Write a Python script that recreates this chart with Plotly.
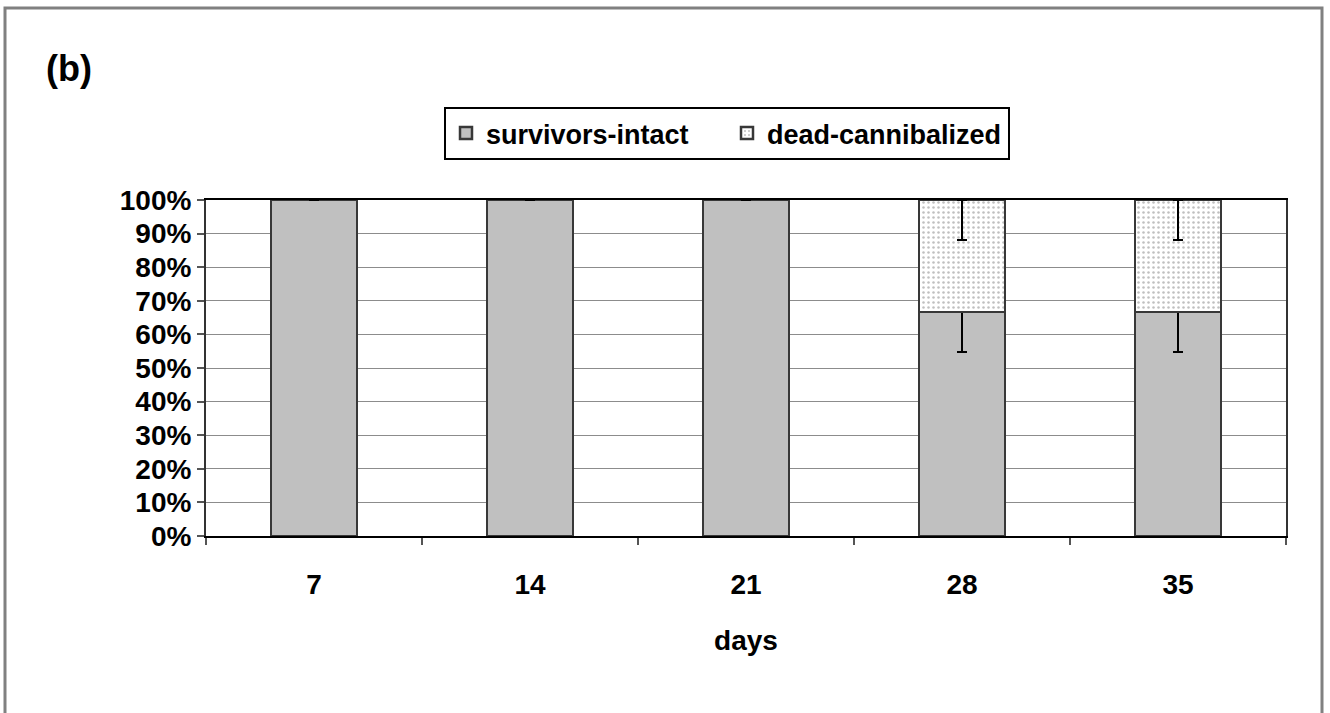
import plotly.graph_objects as go

days = ["7", "14", "21", "28", "35"]
survivors_intact = [1.0, 1.0, 1.0, 0.667, 0.667]
dead_cannibalized = [0.0, 0.0, 0.0, 0.333, 0.333]
survivors_err_minus = [None, None, None, 0.12, 0.12]
dead_err_minus = [None, None, None, 0.12, 0.12]
y_ticks = [0, 0.1, 0.2, 0.3, 0.4, 0.5, 0.6, 0.7, 0.8, 0.9, 1.0]

W, H = 1330, 713
L, R, T, B = 206, 1286, 200, 536
pw, ph = R - L, B - T

def px(x):
    return (x - L) / pw

def py(y):
    return (B - y) / ph

FONT = "Liberation Sans, Arial, sans-serif"

fig = go.Figure()
fig.add_trace(go.Bar(
    x=days, y=survivors_intact, name="survivors-intact",
    marker=dict(color="#C0C0C0", line=dict(color="#383838", width=2.5)),
    error_y=dict(type="data", symmetric=False, array=[0]*5,
                 arrayminus=survivors_err_minus, color="black",
                 thickness=2, width=5),
))
fig.add_trace(go.Bar(
    x=days, y=dead_cannibalized, name="dead-cannibalized",
    marker=dict(color="white", line=dict(color="#383838", width=2.5),
                pattern=dict(shape=".", fgcolor="#808080", bgcolor="white",
                             size=5, solidity=0.2)),
    error_y=dict(type="data", symmetric=False, array=[0]*5,
                 arrayminus=dead_err_minus, color="black",
                 thickness=2, width=5),
))

fig.update_layout(
    width=W, height=H,
    margin=dict(l=L, r=W - R, t=T, b=H - B, autoexpand=False),
    barmode="stack", bargap=0.6,
    paper_bgcolor="white", plot_bgcolor="white",
    font=dict(family=FONT, size=28, color="black"),
    showlegend=True,
    legend=dict(
        orientation="h", x=px(727), xanchor="center", y=py(107), yanchor="top",
        bordercolor="black", borderwidth=2, bgcolor="white",
        font=dict(family=FONT, size=27, color="black", weight="bold"),
        itemwidth=30, entrywidth=236, traceorder="normal",
    ),
    xaxis=dict(
        type="category", tickson="boundaries", ticks="outside", ticklen=7,
        tickcolor="#555555", tickwidth=2,
        showline=True, linecolor="black", linewidth=2, mirror=True,
        showgrid=False,
        tickfont=dict(family=FONT, size=28, color="black", weight="bold"),
        ticklabelstandoff=22,
        title=dict(text="<b>days</b>", standoff=32,
                   font=dict(family=FONT, size=28, color="black")),
    ),
    yaxis=dict(
        range=[0, 1], tickvals=y_ticks, tickformat=".0%",
        ticks="outside", ticklen=7, tickcolor="#555555", tickwidth=2,
        showline=True, linecolor="#333333", linewidth=2, mirror=True,
        showgrid=True, gridcolor="#8c8c8c", gridwidth=1,
        tickfont=dict(family=FONT, size=28, color="black", weight="bold"),
        zeroline=False,
    ),
    shapes=[dict(type="rect", xref="paper", yref="paper",
                 x0=px(5), x1=px(1322), y0=py(722), y1=py(8),
                 line=dict(color="#808080", width=3), layer="below")],
    annotations=[dict(text="<b>(b)</b>", xref="paper", yref="paper",
                      x=px(69), y=py(68), xanchor="center", yanchor="middle",
                      showarrow=False,
                      font=dict(family=FONT, size=36, color="black"))],
)

fig.write_html("out.html", config={"displayModeBar": False},
               post_script="document.body.style.margin='0';")
